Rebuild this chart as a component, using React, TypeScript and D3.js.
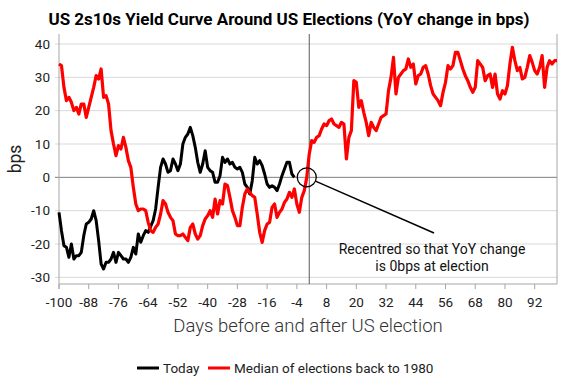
import React, { useEffect, useRef } from 'react';
import * as d3 from 'd3';

// YoY change in bps, one value per day, starting at day -100
const todayFirstDay = -100;
const todayValues = [
  -10.5, -16, -20.5, -21, -24, -20, -24.5, -23.5, -23.5, -22.5,
  -17.5, -14, -13.5, -12.5, -10, -13, -19, -26, -27.5, -25.5,
  -25.5, -24.5, -22.5, -25.5, -22.5, -23.5, -24.5, -24.5, -25.5, -24,
  -21, -23, -17, -19.5, -17.5, -16, -16.5, -14.7, -13, -9.5,
  -3, 3, 5.5, 4, 1.5, 2, 5.5, 4, 2, 4,
  10, 12, 13, 15, 12.5, 9, 4.5, 1.5, 4, 8,
  3, 2, 1.5, -1.5, -1.5, 0.5, 6, 4.5, 5.5, 4,
  4.5, 3, 2.5, 3, 1.5, -2, -3, -5, -1, 6,
  4, 5, 3.5, 1, -2, -3, -2.5, -3, -4, -2,
  0.5, 2.5, 4.5, 4.5, 1, 0,
];

const medianFirstDay = -100;
const medianValues = [
  34, 33.5, 27, 23, 24, 22.5, 20, 21, 19, 22,
  22, 18, 21, 24, 27, 30.5, 29.5, 32.5, 24, 24.5,
  22, 14, 10, 6.5, 9.5, 8.5, 12, 9, 5, 3,
  -3, -8, -10, -9.5, -9.5, -10, -13.5, -16, -16.5, -15,
  -14, -11, -7, -8, -10.5, -12, -13, -17, -17.5, -17.5,
  -17, -18, -19, -15, -14, -17, -18.5, -17.5, -14.5, -12.5,
  -11.5, -10, -12, -6.5, -11, -7, -8, -2, -2.5, -6,
  -10, -12, -14.5, -14.5, -9, -5, -3.5, -4.5, -5.5, -6,
  -11, -16.5, -19.5, -16, -14, -13.5, -9, -8, -12, -10.5,
  -9.5, -7.5, -6.5, -4.5, -6, -3.5, -8, -10.5, -6, -4,
  0, 7, 11, 10.5, 12, 12.5, 14.5, 16, 15.5, 17,
  17.5, 16, 15.5, 15, 16.5, 16, 5.5, 12, 14, 29,
  28.5, 21, 23, 19.5, 16.5, 12.5, 16.5, 15, 14, 16,
  18, 18.5, 19, 26, 30, 36, 25, 30, 31, 32,
  32.5, 35.5, 33, 34, 28, 30.5, 31, 33, 33.5, 31,
  27.5, 25, 24, 23, 21.5, 25.5, 28.5, 33.5, 32.5, 33.5,
  37.5, 37.5, 35, 32.5, 30.5, 29, 27, 25.5, 27, 35,
  34, 33, 29, 30.5, 31, 27, 31, 25, 23.5, 26,
  25, 27.5, 34, 39, 35, 32, 33, 29.5, 30, 33,
  36.5, 34.5, 32, 31, 33, 36.5, 27, 33, 35, 34,
  35, 35,
];

const xTicks = [-100, -88, -76, -64, -52, -40, -28, -16, -4, 8, 20, 32, 44, 56, 68, 80, 92];
const yTicks = [-30, -20, -10, 0, 10, 20, 30, 40];
const xDomain = [-100, 101];
const yDomain = [-32, 43];
const electionLineDay = 1;

const seriesNames = ['Today', 'Median of elections back to 1980'];
const seriesColors = ['#000000', '#ff0000'];

const font = 'Roboto, "Noto Sans", sans-serif';

export default function App() {
  const ref = useRef<SVGSVGElement>(null);

  useEffect(() => {
    const svg = d3.select(ref.current);
    svg.selectAll('*').remove();

    const left = 59, right = 557, top = 34, bottom = 284;
    const x = d3.scaleLinear().domain(xDomain).range([left, right]);
    const y = d3.scaleLinear().domain(yDomain).range([bottom, top]);

    // title
    svg.append('text')
      .attr('x', 289).attr('y', 25)
      .attr('text-anchor', 'middle')
      .style('font-family', font).style('font-weight', 700).style('font-size', '17px')
      .attr('fill', '#000')
      .text('US 2s10s Yield Curve Around US Elections (YoY change in bps)');

    // gridlines
    svg.append('g').selectAll('line')
      .data(yTicks)
      .enter().append('line')
      .attr('x1', left - 4).attr('x2', right)
      .attr('y1', d => y(d)).attr('y2', d => y(d))
      .attr('stroke', d => d === 0 ? '#7f7f7f' : '#d9d9d9')
      .attr('stroke-width', 1);

    // y labels
    svg.append('g').selectAll('text')
      .data(yTicks)
      .enter().append('text')
      .attr('x', 50).attr('y', d => y(d) + 4.5)
      .attr('text-anchor', 'end')
      .style('font-family', font).style('font-size', '13.5px')
      .attr('fill', '#222')
      .text(d => d);

    svg.append('text')
      .attr('transform', 'translate(21,159) rotate(-90)')
      .attr('text-anchor', 'middle')
      .style('font-family', font).style('font-size', '17.5px')
      .attr('fill', '#222')
      .text('bps');

    // axes frame
    svg.append('line')
      .attr('x1', left).attr('x2', left).attr('y1', top).attr('y2', bottom + 5)
      .attr('stroke', '#a6a6a6');
    svg.append('line')
      .attr('x1', right).attr('x2', right).attr('y1', top).attr('y2', bottom)
      .attr('stroke', '#a6a6a6');
    svg.append('line')
      .attr('x1', left).attr('x2', right).attr('y1', bottom).attr('y2', bottom)
      .attr('stroke', '#a6a6a6');

    svg.append('g').selectAll('line')
      .data(xTicks)
      .enter().append('line')
      .attr('x1', d => x(d)).attr('x2', d => x(d))
      .attr('y1', bottom).attr('y2', bottom + 5)
      .attr('stroke', '#a6a6a6');

    svg.append('g').selectAll('text')
      .data(xTicks)
      .enter().append('text')
      .attr('x', d => x(d)).attr('y', 307)
      .attr('text-anchor', 'middle')
      .style('font-family', font).style('font-size', '13.5px')
      .attr('fill', '#222')
      .text(d => d);

    svg.append('text')
      .attr('x', 308).attr('y', 332)
      .attr('text-anchor', 'middle')
      .style('font-family', font).style('font-weight', 300).style('font-size', '18.5px')
      .attr('fill', '#333')
      .text('Days before and after US election');

    // election day line
    svg.append('line')
      .attr('x1', x(electionLineDay)).attr('x2', x(electionLineDay))
      .attr('y1', top).attr('y2', bottom)
      .attr('stroke', '#595959').attr('stroke-width', 1);

    const line = d3.line<[number, number]>()
      .x(d => x(d[0]))
      .y(d => y(d[1]));

    const todayData = todayValues.map((v, i) => [todayFirstDay + i, v] as [number, number]);
    const medianData = medianValues.map((v, i) => [medianFirstDay + i, v] as [number, number]);

    svg.append('path')
      .attr('d', line(todayData))
      .attr('fill', 'none')
      .attr('stroke', seriesColors[0])
      .attr('stroke-width', 3)
      .attr('stroke-linejoin', 'round');

    svg.append('path')
      .attr('d', line(medianData))
      .attr('fill', 'none')
      .attr('stroke', seriesColors[1])
      .attr('stroke-width', 3.2)
      .attr('stroke-linejoin', 'round');

    // annotation
    const cx = x(0), cy = y(0), r = 9.5;
    svg.append('circle')
      .attr('cx', cx).attr('cy', cy).attr('r', r)
      .attr('fill', 'none').attr('stroke', '#000').attr('stroke-width', 1.3);
    const ex = 434, ey = 233;
    const len = Math.hypot(ex - cx, ey - cy);
    svg.append('line')
      .attr('x1', cx + (ex - cx) / len * r).attr('y1', cy + (ey - cy) / len * r)
      .attr('x2', ex).attr('y2', ey)
      .attr('stroke', '#000').attr('stroke-width', 1.5);

    const note = svg.append('text')
      .attr('text-anchor', 'middle')
      .style('font-family', font).style('font-size', '14px')
      .attr('fill', '#111');
    note.append('tspan').attr('x', 432).attr('y', 254).text('Recentred so that YoY change');
    note.append('tspan').attr('x', 432).attr('y', 271).text('is 0bps at election');

    // legend
    const legendX = [137, 208];
    const legend = svg.append('g').selectAll('g')
      .data(seriesNames)
      .enter().append('g')
      .attr('transform', (d, i) => `translate(${legendX[i]},368)`);
    legend.append('line')
      .attr('x1', 0).attr('x2', 22).attr('y1', 0).attr('y2', 0)
      .attr('stroke', (d, i) => seriesColors[i]).attr('stroke-width', 3);
    legend.append('text')
      .attr('x', 26).attr('y', 4.5)
      .style('font-family', font).style('font-size', '13.5px')
      .attr('fill', '#222')
      .text(d => d);
  }, []);

  return (
    <svg ref={ref} width={571} height={390}
      style={{ position: 'absolute', left: 0, top: 0, background: '#fff' }} />
  );
}
